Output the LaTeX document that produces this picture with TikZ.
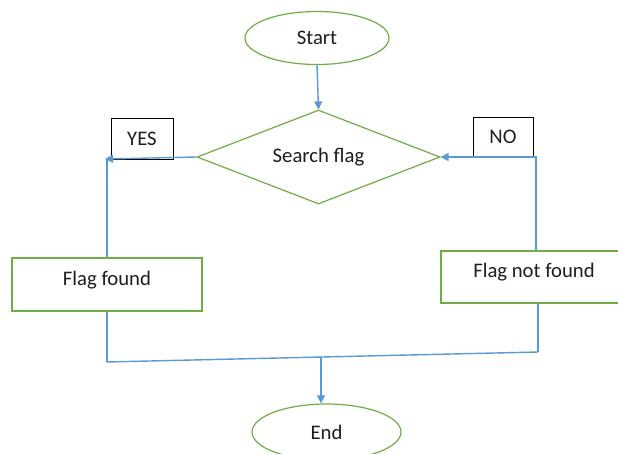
\documentclass[tikz,border=0pt]{standalone}
\usepackage{fontspec}
\setmainfont{Carlito}
\usetikzlibrary{shapes.geometric,arrows.meta}
\definecolor{fgreen}{RGB}{112,173,71}
\definecolor{fblue}{RGB}{91,155,213}
\definecolor{ftext}{RGB}{30,30,30}
\begin{document}
\begin{tikzpicture}[x=1pt,y=-1pt,
  every node/.style={font=\fontsize{20.7}{24}\selectfont, text=ftext},
  term/.style={ellipse, draw=fgreen, line width=1.2pt, inner sep=0pt},
  decide/.style={diamond, draw=fgreen, line width=1.2pt, inner sep=0pt, aspect=2.58, minimum width=243pt, minimum height=94pt},
  procbox/.style={rectangle, draw=fgreen, line width=1.2pt, inner sep=0pt},
  tagbox/.style={rectangle, draw=black, line width=0.9pt, inner sep=0pt},
  flow/.style={draw=fblue, line width=1.4pt},
  arr/.style={flow, -{Triangle[length=8pt,width=8pt]}}
]
\useasboundingbox (0,0) rectangle (618,453);
\clip (0,0) rectangle (618,453);
\fill[white] (0,0) rectangle (618,453);

\node[term, minimum width=144pt, minimum height=53pt] (start) at (317,38) {Start};
\node[decide] (search) at (318.5,157) {Search flag};
\node[tagbox, minimum width=62pt, minimum height=41pt] (yes) at (142,138.5) {YES};
\node[tagbox, minimum width=60pt, minimum height=40pt] (no) at (503,137) {NO};
\node[procbox, minimum width=190pt, minimum height=53pt,
  label={[name=ftext, yshift=4.5pt]center:Flag found}] (found) at (107,284.5) {};
\node[procbox, minimum width=259pt, minimum height=52pt,
  label={[name=nftext, xshift=-36.5pt, yshift=5pt]center:Flag not found}] (notfound) at (570.5,277) {};
\node[term, minimum width=149pt, minimum height=56pt] (end) at (326.5,432) {End};

\coordinate (yc) at (105,159);
\coordinate (nc) at (536,157);
\coordinate (bl) at (106,362);
\coordinate (br) at (538,352);
\coordinate (j) at (321,357);

\draw[arr] (start.south) -- (search.north);
\draw[arr] (search.west) -- (yc);
\draw[flow] (found.north) -- (found.north |- yc);
\draw[arr] (nc |- notfound.north) -- (nc) -- (search.east);
\draw[flow] (found.south) -- (found.south |- bl);
\draw[flow] (br |- notfound.south) -- (br);
\draw[flow] (bl) -- (br);
\draw[arr] (j) -- (j |- end.north);
\end{tikzpicture}
\end{document}
